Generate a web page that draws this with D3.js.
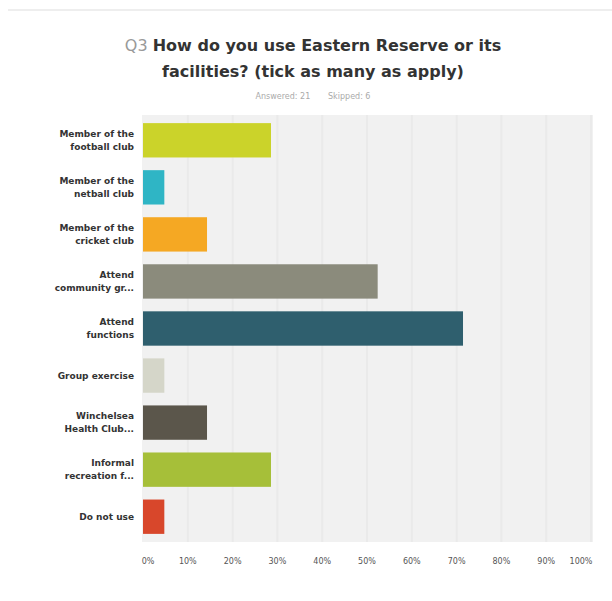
<!DOCTYPE html>
<html><head><meta charset="utf-8">
<script src="https://cdn.jsdelivr.net/npm/d3@7"></script>
<style>body{margin:0;background:#fff;} svg{display:block;font-family:"DejaVu Sans",Verdana,sans-serif;}</style>
</head><body><svg id="c" width="612" height="601"></svg>
<script>
const categories = [
  ["Member of the","football club"],
  ["Member of the","netball club"],
  ["Member of the","cricket club"],
  ["Attend","community gr..."],
  ["Attend","functions"],
  ["Group exercise"],
  ["Winchelsea","Health Club..."],
  ["Informal","recreation f..."],
  ["Do not use"]
];
const values = [0.2857, 0.0476, 0.1429, 0.5238, 0.7143, 0.0476, 0.1429, 0.2857, 0.0476];
const colors = ["#cbd32a","#2fb5c5","#f5a823","#8b8b7c","#2f5f6e","#d5d6c9","#5b564b","#a6bf39","#d8472b"];
const ticks = [0,0.1,0.2,0.3,0.4,0.5,0.6,0.7,0.8,0.9,1.0];
const tickLabels = ["0%","10%","20%","30%","40%","50%","60%","70%","80%","90%","100%"];

const svg = d3.select("#c");
svg.append("line").attr("x1",8).attr("x2",612).attr("y1",10).attr("y2",10).attr("stroke","#eeeeee").attr("stroke-width",2);

const x = d3.scaleLinear().domain([0,1]).range([143,591]);
const y = d3.scaleBand().domain(d3.range(categories.length)).range([117,540]).paddingInner(0.27).paddingOuter(0.13);

svg.append("rect").attr("x",142).attr("y",115).attr("width",451).attr("height",427).attr("fill","#f1f1f1");

svg.append("g").selectAll("line").data(ticks.slice(1)).join("line")
  .attr("x1",d=>x(d)).attr("x2",d=>x(d)).attr("y1",115).attr("y2",542)
  .attr("stroke","#eaeaea").attr("stroke-width",2);

svg.append("g").selectAll("rect").data(values).join("rect")
  .attr("x",x(0)).attr("y",(d,i)=>y(i)).attr("width",d=>x(d)-x(0)).attr("height",y.bandwidth())
  .attr("fill",(d,i)=>colors[i]);

const lab = svg.append("g").selectAll("text").data(categories).join("text")
  .attr("x",134).attr("text-anchor","end").attr("font-size",9).attr("font-weight","bold").attr("fill","#333")
  .attr("y",(d,i)=>y(i)+y.bandwidth()/2 - (d.length-1)*6.5 + 3);
lab.selectAll("tspan").data(d=>d).join("tspan").attr("x",134).attr("dy",(d,j)=>j?13:0).text(d=>d);

svg.append("g").selectAll("text").data(ticks).join("text")
  .attr("x",(d,i)=>x(d) + (i===0?5:(i===10?-10:0))).attr("y",564).attr("text-anchor","middle")
  .attr("font-size",8).attr("fill","#555").text((d,i)=>tickLabels[i]);

const t1 = svg.append("text").attr("x",313).attr("y",51).attr("text-anchor","middle").attr("font-size",16).attr("font-weight","bold").attr("fill","#333");
t1.append("tspan").attr("font-weight","normal").attr("fill","#999").text("Q3 ");
t1.append("tspan").text("How do you use Eastern Reserve or its");
svg.append("text").attr("x",313).attr("y",77).attr("text-anchor","middle").attr("font-size",16).attr("font-weight","bold").attr("fill","#333").text("facilities? (tick as many as apply)");
svg.append("text").attr("x",313).attr("y",99).attr("text-anchor","middle").attr("font-size",8).attr("fill","#aaa").attr("xml:space","preserve").text("Answered: 21       Skipped: 6");
</script></body></html>
